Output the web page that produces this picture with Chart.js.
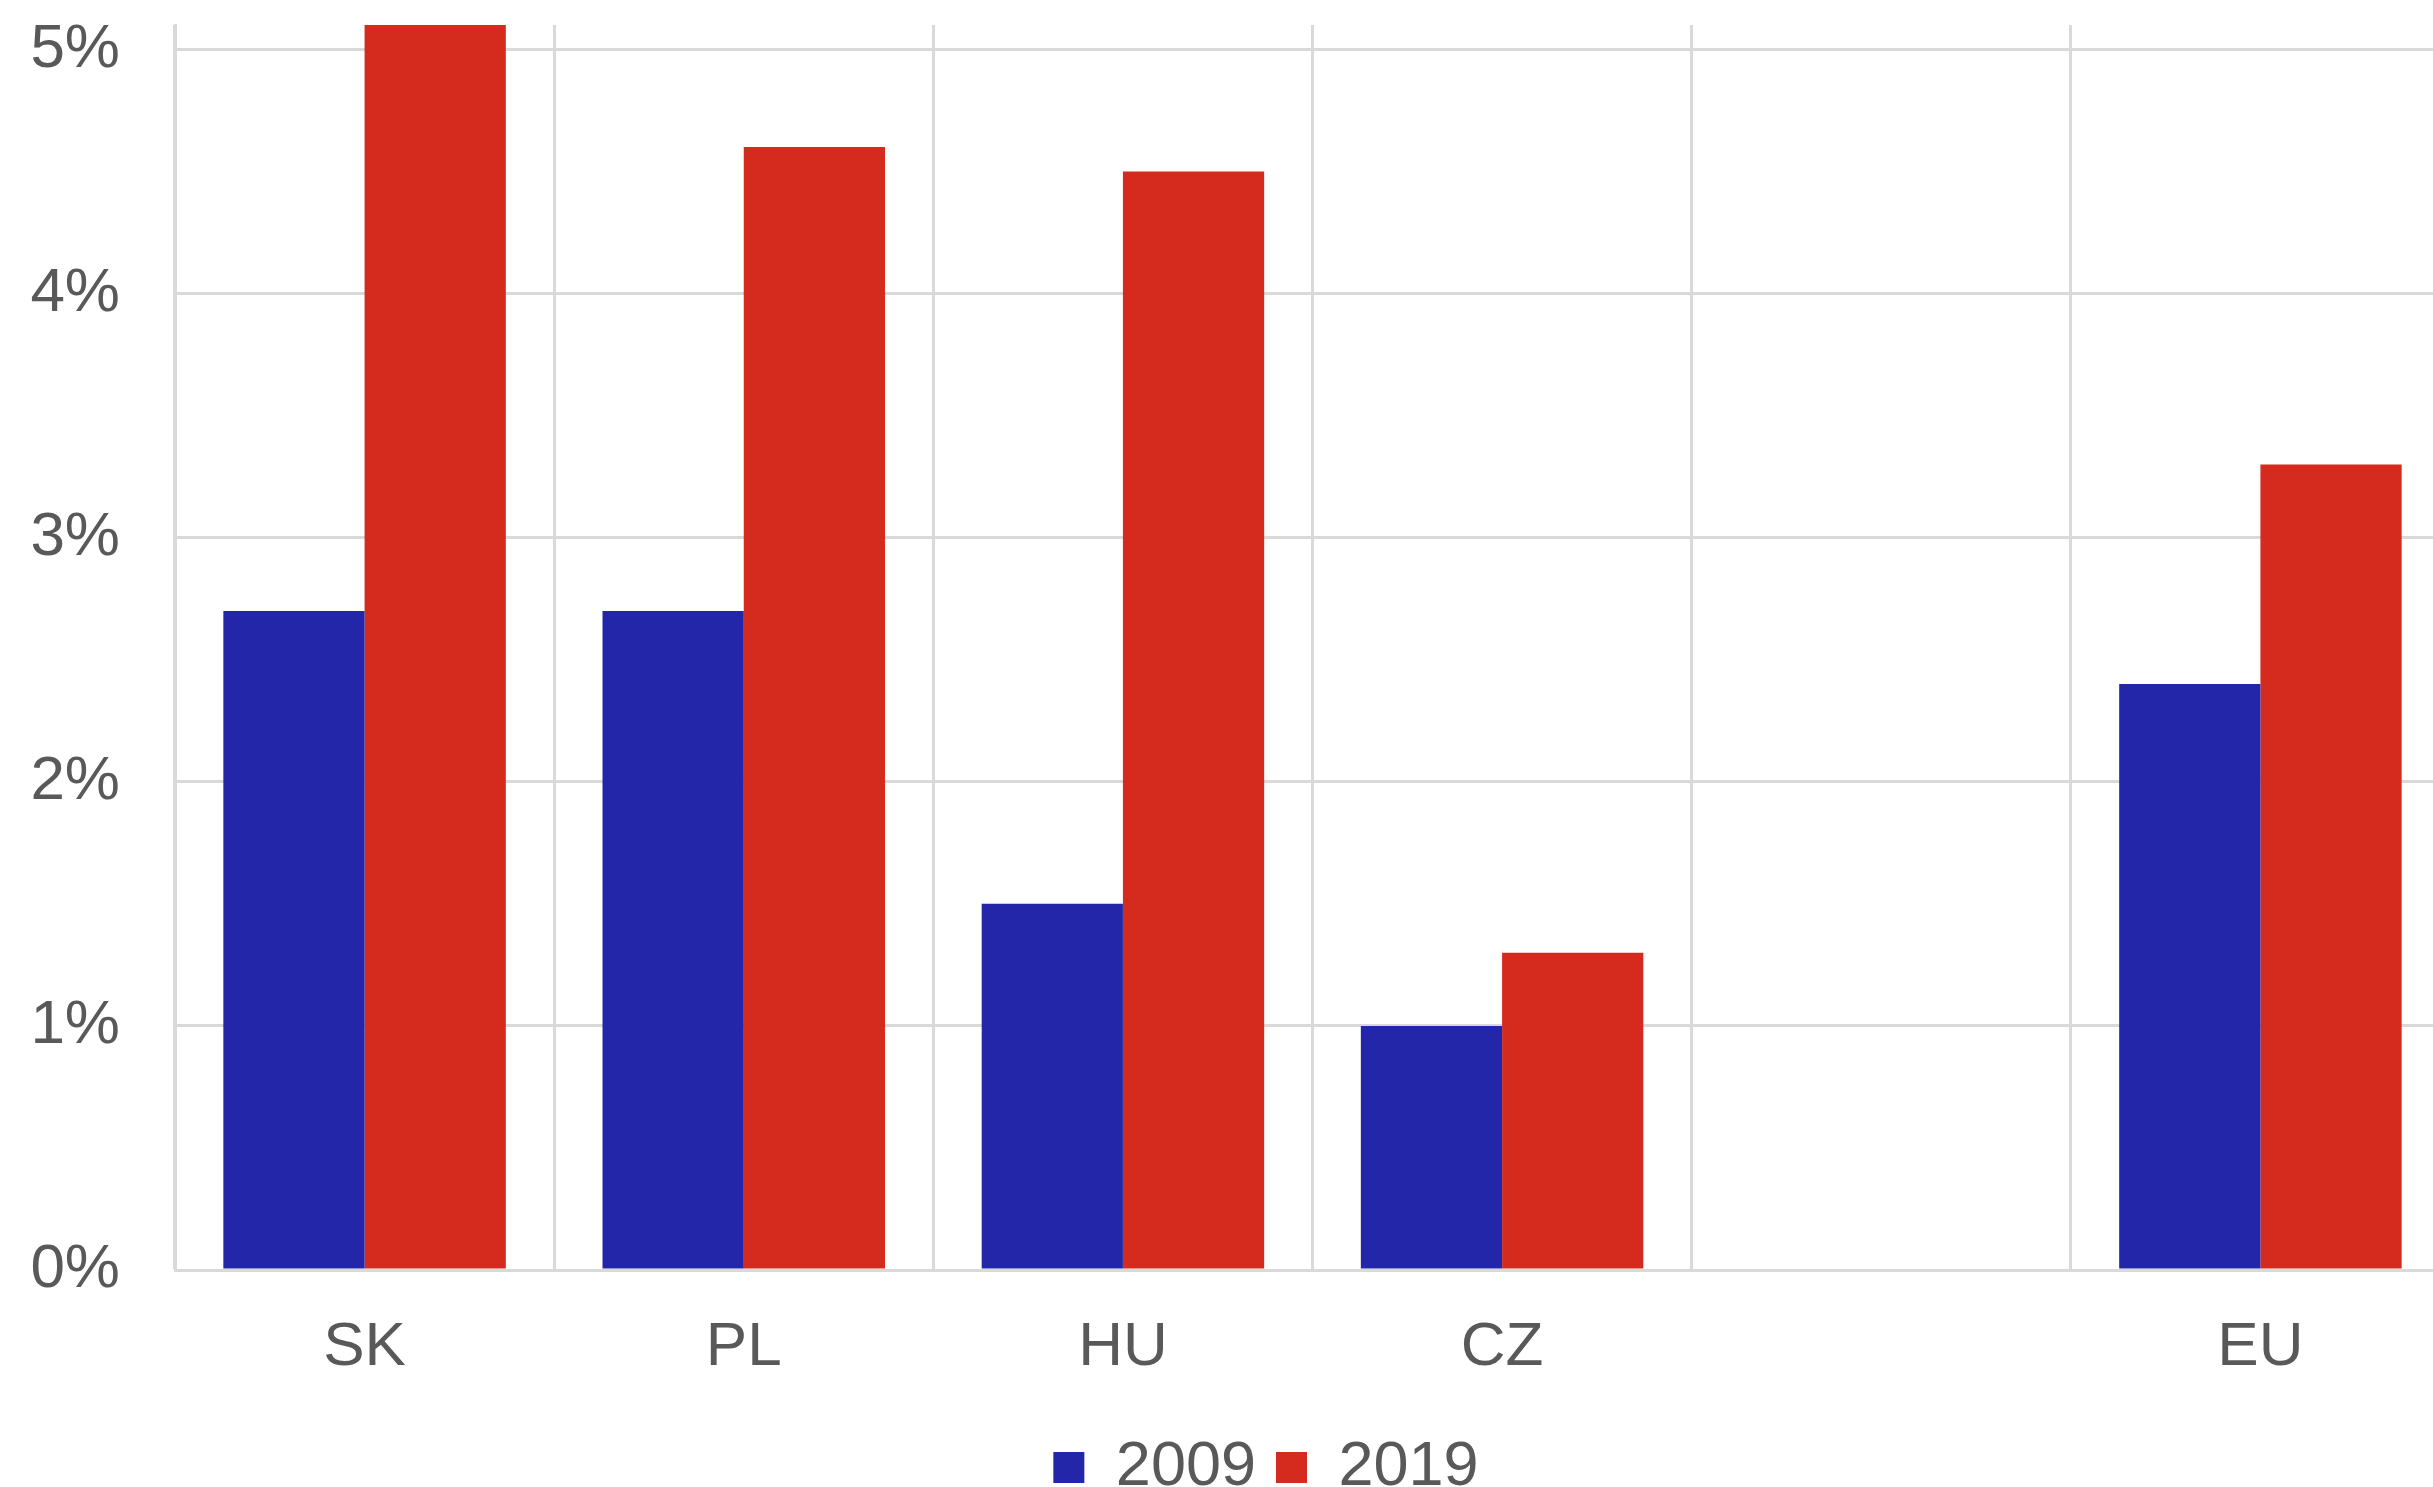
<!DOCTYPE html>
<html>
<head>
<meta charset="utf-8">
<script src="https://cdn.jsdelivr.net/npm/chart.js@4.4.1/dist/chart.umd.min.js"></script>
<style>
  html, body { margin: 0; padding: 0; background: #ffffff; overflow: hidden; }
  #wrap { position: absolute; left: 0; top: 0; width: 2522px; height: 1487px; }
</style>
</head>
<body>
<div id="wrap"><canvas id="chart" width="2522" height="1487"></canvas></div>
<script>
// Country groups (one slot is left empty as a spacer before the EU average)
const categories = ['SK', 'PL', 'HU', 'CZ', '', 'EU'];
const seriesNames = ['2009', '2019'];
const values2009 = [2.7, 2.7, 1.5, 1.0, null, 2.4];
const values2019 = [5.1, 4.6, 4.5, 1.3, null, 3.3];
const yTicks = [0, 1, 2, 3, 4, 5];

const TEXT = '#595959';
const GRID = '#d9d9d9';
const FONT = "'Liberation Sans', Arial, sans-serif";

new Chart(document.getElementById('chart'), {
  type: 'bar',
  data: {
    labels: categories,
    datasets: [
      { label: seriesNames[0], data: values2009, backgroundColor: '#2326a8', borderWidth: 0,
        categoryPercentage: 0.745, barPercentage: 1.0 },
      { label: seriesNames[1], data: values2019, backgroundColor: '#d52b1f', borderWidth: 0,
        categoryPercentage: 0.745, barPercentage: 1.0 }
    ]
  },
  options: {
    responsive: false,
    animation: false,
    devicePixelRatio: 1,
    layout: { padding: { left: 30, right: 20, top: 0, bottom: -22 } },
    plugins: {
      tooltip: { enabled: false },
      legend: {
        position: 'bottom',
        labels: {
          color: TEXT,
          font: { family: FONT, size: 63, lineHeight: 1.0 },
          boxWidth: 31,
          boxHeight: 31,
          padding: 20
        }
      }
    },
    scales: {
      x: {
        afterFit: (scale) => {
          scale.height = 146;
          scale.paddingLeft = 0;
          scale.paddingRight = 72;
        },
        grid: { color: GRID, lineWidth: 3, drawTicks: false, offset: true },
        border: { color: GRID, width: 3 },
        ticks: { color: TEXT, font: { family: FONT, size: 62 }, padding: 41, maxRotation: 0 }
      },
      y: {
        min: 0,
        max: 5.1,
        afterBuildTicks: (axis) => { axis.ticks = yTicks.map(v => ({ value: v })); },
        afterFit: (scale) => {
          scale.width = 145;
          scale.paddingTop = 25;
          scale.paddingBottom = 0;
        },
        grid: { color: GRID, lineWidth: 3, drawTicks: false },
        border: { color: GRID, width: 3 },
        ticks: {
          color: TEXT,
          font: { family: FONT, size: 62 },
          padding: 55,
          callback: (v) => v + '%'
        }
      }
    }
  }
});
</script>
</body>
</html>
